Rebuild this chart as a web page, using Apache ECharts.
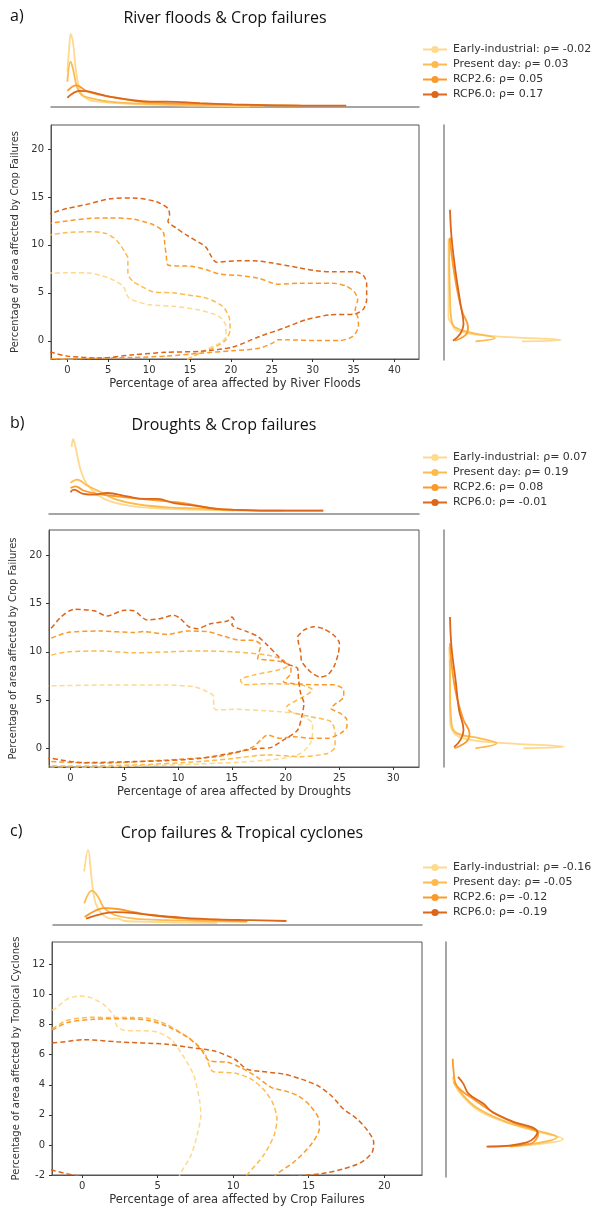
<!DOCTYPE html>
<html><head><meta charset="utf-8">
<script src="https://cdn.jsdelivr.net/npm/echarts@6/dist/echarts.min.js"></script>
<style>html,body{margin:0;padding:0;background:#fff}#c{width:598px;height:1207px}</style>
</head><body><div id="c"></div><script>
// ---------- data ----------
const scenarios = ['Early-industrial', 'Present day', 'RCP2.6', 'RCP6.0'];
const rhoA = ['-0.02', '0.03', '0.05', '0.17'];
const rhoB = ['0.07', '0.19', '0.08', '-0.01'];
const rhoC = ['-0.16', '-0.05', '-0.12', '-0.19'];
const xTicksA = [0, 5, 10, 15, 20, 25, 30, 35, 40];
const yTicksA = [0, 5, 10, 15, 20];
const xTicksB = [0, 5, 10, 15, 20, 25, 30];
const yTicksB = [0, 5, 10, 15, 20];
const xTicksC = [0, 5, 10, 15, 20];
const yTicksC = [-2, 0, 2, 4, 6, 8, 10, 12];

// panel a: contours (x: river floods %, y: crop failures %)
const aContEarly = [[-2.5,7.06],[-2,7.06],[0,7.1],[2.7,7.06],[5.2,6.5],[6.8,5.7],[7.4,4.6],[7.8,4.3],[10,3.76],[12.9,3.6],[16.2,3.2],[18.6,2.5],[19.4,1.5],[19.4,0.45],[18.6,-0.24],[17,-0.9],[15.4,-1.6],[14.5,-2],[13,-2.6],[5,-2.9],[-2.5,-2.6],[-2.5,7.06]];
const aContPresent = [[-2.5,11.0],[-2,11.06],[0,11.3],[3.1,11.37],[4.8,11.17],[6,10.5],[7,9.3],[7.4,8.6],[7.4,7.06],[8.0,6.2],[8.8,5.8],[10.5,5.1],[12.9,5.0],[15.4,4.7],[17,4.45],[19,3.6],[19.8,2.4],[19.9,1.15],[19.4,0.1],[18.2,-0.6],[16.2,-1.3],[15,-1.8],[13.5,-2.3],[6,-2.4],[0,-1.95],[-2,-1.85],[-2.5,-1.8],[-2.5,11.0]];
const aContRcp26 = [[-2.5,12.2],[-2,12.28],[0,12.5],[2.5,12.75],[5.2,12.8],[8,12.7],[10.5,12.1],[11.7,11.4],[11.9,10.2],[12.1,8.8],[12.3,7.9],[13.7,7.8],[15.4,7.75],[17,7.4],[18.6,6.96],[21.1,6.8],[23.5,6.5],[25.1,6.0],[25.9,5.9],[28.4,6.0],[32.5,6.0],[34.1,5.7],[35.1,5.1],[35.5,4.3],[35.2,3.2],[35.5,2.5],[35.6,1.5],[34.9,0.45],[33.3,0.03],[30.4,0.03],[26.8,0.1],[25.7,0.1],[25.1,-0.24],[23.5,-0.77],[20.2,-1.04],[16.2,-1.3],[12.1,-1.6],[8,-1.74],[4,-1.8],[0,-1.9],[-2,-1.9],[-2.5,-1.9],[-2.5,12.2]];
const aContRcp60 = [[-2.5,13.1],[-2,13.3],[0,13.8],[2.3,14.2],[5.2,14.8],[8,14.9],[10.9,14.5],[12.3,13.8],[12.5,13.1],[12.3,12.45],[13.3,11.76],[14.5,11.06],[16.2,10.2],[17,9.7],[17.6,8.8],[18.2,8.2],[21.1,8.35],[22.7,8.35],[25.1,8.1],[28.4,7.6],[30.4,7.3],[32.5,7.2],[35.2,7.2],[36.2,6.8],[36.6,6.0],[36.6,4.3],[36.2,3.3],[35.2,2.8],[32.1,2.7],[29.2,2.2],[26.4,1.3],[23.5,0.45],[20.2,-0.66],[16.2,-1.1],[12.1,-1.2],[8,-1.46],[4,-1.8],[0,-1.6],[-2,-1.2],[-2.5,-1.1],[-2.5,13.1]];
// panel a: marginal densities
const aTopEarly = [[0,0.46],[0.2,0.74],[0.4,0.95],[0.7,0.83],[1.1,0.44],[1.7,0.18],[2.7,0.09],[3.9,0.07],[6.0,0.05],[10.1,0.03],[16.2,0.017],[22.3,0.01]];
const aTopPresent = [[0,0.33],[0.4,0.59],[0.7,0.49],[1.1,0.29],[1.7,0.16],[2.7,0.12],[5.2,0.07],[10.1,0.04],[16.2,0.026],[24,0.015]];
const aTopRcp26 = [[0,0.21],[1.1,0.28],[2.3,0.21],[3.9,0.16],[6.0,0.12],[8.8,0.07],[12.1,0.05],[16.2,0.04],[20.2,0.03],[28.4,0.017]];
const aTopRcp60 = [[0,0.12],[1.5,0.21],[2.7,0.2],[4.8,0.14],[7.2,0.1],[10.1,0.07],[12.1,0.07],[16.2,0.05],[20.2,0.035],[26.4,0.02],[34.1,0.017]];
const aRightEarly = [[0.52,0.03],[0.78,0.17],[0.31,0.6],[0.085,1.15],[0.05,1.9],[0.03,2.5],[0.03,6.7],[0.03,10.7]];
const aRightPresent = [[0.21,0.03],[0.34,0.38],[0.17,0.97],[0.073,1.5],[0.05,2.2],[0.04,4.6],[0.035,8.45],[0.035,10.7]];
const aRightRcp26 = [[0.073,0.1],[0.15,0.8],[0.16,1.5],[0.12,3.2],[0.08,6.0],[0.05,9.15],[0.04,10.8]];
const aRightRcp60 = [[0.06,0.1],[0.107,0.8],[0.13,1.84],[0.11,3.9],[0.076,7.4],[0.05,10.9],[0.04,13.7]];

// panel b: contours (x: droughts %, y: crop failures %)
const bContEarly = [[-2.5,6.5],[-1.86,6.5],[2.8,6.57],[9,6.57],[11.5,6.4],[12.7,5.9],[13.3,5.4],[13.3,4.3],[13.6,4.0],[15.2,4.06],[18.3,3.9],[20.8,3.65],[22,3.1],[22.5,2.6],[22.5,1.6],[22.3,0.55],[21.4,-0.5],[19.8,-1.0],[16.7,-1.34],[12.1,-1.58],[5.9,-1.79],[0,-2.0],[-2.5,-2.0],[-2.5,6.5]];
const bContPresent = [[-2.5,9.6],[-1.86,9.67],[-0.3,10.0],[2.8,10.1],[5.9,9.9],[9.0,10.0],[12.1,10.1],[15.2,10.0],[18.3,9.67],[19.8,9.16],[20.1,8.5],[19.2,8.1],[17.0,7.6],[15.8,7.1],[16.1,6.6],[18.3,6.7],[21.4,6.6],[22.5,6.06],[21.4,5.2],[20.1,4.3],[20.5,3.8],[22.3,3.3],[24.2,2.8],[24.6,1.6],[24.6,0.2],[23.9,-0.5],[21.4,-0.83],[18.3,-0.65],[15.2,-1.0],[12.1,-1.34],[5.9,-1.69],[0,-1.8],[-2.5,-1.7],[-2.5,9.6]];
const bContRcp26 = [[-2.5,11.2],[-1.86,11.4],[-0.3,12.0],[2.8,12.15],[5.9,12.0],[6.8,12.1],[9.0,11.8],[10.8,12.15],[12.7,12.1],[14.3,11.6],[15.8,11.2],[17,11.2],[17.7,10.7],[17.5,9.85],[17.4,9.3],[18.3,9.16],[19.5,9.0],[20.5,8.5],[20.5,7.8],[19.8,6.9],[20.5,6.75],[22.9,6.6],[24.5,6.6],[25.4,6.06],[25.4,5.37],[24.5,4.5],[24.2,4.16],[25.1,3.65],[25.7,2.96],[25.7,2.27],[25.1,1.58],[23.9,1.07],[22.3,1.07],[20.8,1.24],[19.5,1.07],[18.3,1.4],[17.7,0.9],[17.0,0.2],[15.8,-0.3],[13.6,-0.83],[9,-1.17],[2.8,-1.5],[-1.86,-1.34],[-2.5,-1.3],[-2.5,11.2]];
const bContRcp60 = [[-2.5,12.2],[-1.86,12.4],[-0.9,13.6],[0.3,14.4],[2.2,14.25],[3.4,13.7],[5.0,14.3],[5.9,14.25],[7.1,13.3],[8.4,13.46],[9.6,13.8],[10.2,13.46],[11.0,12.6],[11.8,12.4],[13,12.9],[14.6,13.2],[15,13.6],[15.2,13.3],[15,12.8],[16.4,12.1],[17.4,11.6],[18.3,10.7],[19.2,9.67],[20,8.8],[21.1,8.3],[21.2,7.1],[21.4,5.7],[21.7,4.7],[21.5,3.3],[21.1,1.9],[19.8,0.9],[18.6,0.1],[17.7,0.03],[16.4,-0.14],[15.2,-0.41],[12.1,-1.0],[9,-1.24],[5.9,-1.34],[1.2,-1.45],[-1.86,-1.0],[-2.5,-0.9],[-2.5,12.2]];
const bContRcp60Island = [[21.1,11.57],[21.7,12.25],[22.6,12.6],[23.5,12.4],[24.5,11.7],[25,10.9],[24.9,9.85],[24.5,8.5],[23.9,7.6],[23.2,7.4],[22.3,7.95],[21.5,9.0],[21.4,10.0],[21.2,10.9],[21.1,11.57]];
// panel b: marginal densities
const bTopEarly = [[0.1,0.8],[0.25,0.89],[0.46,0.8],[0.93,0.53],[1.55,0.35],[2.5,0.23],[3.7,0.15],[5.9,0.09],[9,0.06],[12.1,0.05],[15.2,0.04]];
const bTopPresent = [[0,0.37],[0.6,0.41],[1.55,0.34],[2.8,0.26],[4.3,0.17],[6.5,0.11],[9,0.08],[12.1,0.065],[16.7,0.04],[19.8,0.04]];
const bTopRcp26 = [[0,0.31],[0.46,0.33],[1.2,0.28],[2.5,0.24],[4.3,0.21],[6.5,0.18],[9,0.15],[10.5,0.13],[12.7,0.08],[15.2,0.05],[19.8,0.04],[23.5,0.04]];
const bTopRcp60 = [[0,0.26],[0.3,0.29],[1.2,0.24],[2.2,0.23],[3.4,0.25],[5.3,0.21],[6.8,0.18],[8.1,0.18],[9.6,0.13],[11.5,0.1],[13.3,0.065],[15.2,0.05],[18.3,0.04],[23.5,0.04]];
const bRightEarly = [[0.53,0.04],[0.8,0.2],[0.35,0.62],[0.13,1.07],[0.06,1.76],[0.04,2.96],[0.04,6.4],[0.035,10.5]];
const bRightPresent = [[0.21,0.04],[0.35,0.55],[0.24,1.07],[0.085,1.6],[0.05,2.6],[0.04,6.4],[0.04,9.2]];
const bRightRcp26 = [[0.07,0.04],[0.15,0.73],[0.17,1.6],[0.13,2.96],[0.08,5.7],[0.05,8.8],[0.04,10.9]];
const bRightRcp60 = [[0.067,0.15],[0.11,0.9],[0.13,1.93],[0.1,4.0],[0.077,7.1],[0.05,10.5],[0.04,13.6]];

// panel c: contours (x: crop failures %, y: tropical cyclones %)
const cContEarly = [[-2.5,8.8],[-1.88,9.0],[-1.0,9.7],[-0.2,9.9],[0.55,9.8],[1.4,9.36],[2.1,8.6],[2.3,7.9],[2.9,7.6],[3.9,7.6],[5,7.5],[5.9,7.0],[6.7,5.9],[7.4,4.6],[7.8,2.8],[7.85,1.95],[7.6,0.62],[7.2,-0.7],[6.5,-1.9],[6.2,-2.5],[0,-3],[-2.5,-2.6],[-2.5,8.8]];
const cContPresent = [[-2.5,7.6],[-1.88,7.8],[-1.0,8.3],[0.77,8.5],[1.9,8.47],[3.4,8.47],[4.5,8.4],[5.6,8.0],[6.7,7.37],[7.6,6.7],[8.1,6.15],[8.5,5.04],[8.7,4.87],[10.1,4.78],[11.2,4.38],[12,3.7],[12.6,2.83],[12.9,1.73],[12.7,0.62],[12,-0.7],[10.9,-2.0],[10.3,-2.6],[0,-3],[-2.5,-2.6],[-2.5,7.6]];
const cContRcp26 = [[-2.5,7.5],[-1.88,7.7],[-1,8.14],[0.77,8.36],[3.0,8.4],[4.3,8.3],[5.6,7.9],[7.0,7.15],[7.85,6.37],[8.4,5.6],[9.6,5.5],[10.5,5.15],[11.6,4.5],[12.5,3.83],[13.4,3.6],[14.3,3.27],[15.1,2.6],[15.7,1.6],[15.7,1.06],[15.1,-0.04],[14,-1.15],[12.9,-1.92],[12.3,-2.5],[0,-3],[-2.5,-2.6],[-2.5,7.5]];
const cContRcp60 = [[-2.5,6.8],[-1.88,6.8],[0.1,7.0],[2.3,6.86],[5.6,6.7],[7.0,6.5],[8.7,6.26],[10.1,5.7],[10.9,5.04],[11.8,4.9],[13.4,4.7],[14.5,4.38],[15.6,3.94],[16.5,3.27],[17.3,2.39],[18.2,1.73],[18.9,0.95],[19.3,0.18],[19.2,-0.49],[18.5,-1.15],[17.3,-1.6],[15.8,-1.92],[14.5,-2.04],[8,-2.6],[0,-2.1],[-1.9,-1.7],[-2.5,-1.5],[-2.5,6.8]];
// panel c: marginal densities
const cTopEarly = [[0.07,0.67],[0.33,0.94],[0.55,0.6],[0.77,0.31],[1.2,0.15],[1.87,0.08],[2.3,0.08],[2.76,0.05],[4.5,0.04],[6.7,0.03],[8.9,0.025]];
const cTopPresent = [[0.07,0.27],[0.6,0.43],[1.0,0.35],[1.4,0.21],[2.1,0.125],[3.4,0.08],[5.6,0.06],[7.8,0.05],[10.9,0.04]];
const cTopRcp26 = [[0.1,0.1],[0.77,0.175],[1.4,0.21],[2.3,0.2],[3.4,0.16],[4.5,0.125],[6.7,0.08],[8.9,0.06],[10.9,0.05]];
const cTopRcp60 = [[0.2,0.08],[1.2,0.137],[2.1,0.16],[3.4,0.15],[4.5,0.125],[6.7,0.09],[8.9,0.07],[11.1,0.06],[13.5,0.05]];
const cRightEarly = [[0.43,0],[0.78,0.5],[0.63,0.95],[0.43,1.5],[0.23,2.3],[0.115,3.27],[0.06,4.05],[0.045,4.6]];
const cRightPresent = [[0.43,0],[0.74,0.62],[0.56,1.17],[0.38,1.72],[0.2,2.6],[0.105,3.5],[0.05,4.26]];
const cRightRcp26 = [[0.28,0],[0.56,0.18],[0.615,0.84],[0.45,1.6],[0.315,2.27],[0.18,3.16],[0.07,4.05],[0.05,5.04],[0.045,5.8]];
const cRightRcp60 = [[0.27,0],[0.54,0.29],[0.61,0.95],[0.43,1.72],[0.31,2.27],[0.25,2.83],[0.15,3.5],[0.115,4.16],[0.08,4.6]];

// ---------- styles / layout ----------
const colors = ['#fed98e', '#fdbb4f', '#fb9a29', '#dc6619'];
const FONT = '"DejaVu Sans", sans-serif';
const panels = [
  { label: 'a)', title: 'River floods & Crop failures', titleX: 225, rho: rhoA,
    xName: 'Percentage of area affected by River Floods', yName: 'Percentage of area affected by Crop Failures',
    xMin: -2, xMax: 43, xTicks: xTicksA, yMin: -1.9, yMax: 22.5, yTicks: yTicksA,
    main: { left: 51, top: 125, width: 368, height: 234 },
    topG: { left: 51, top: 30, width: 368, height: 77 },
    rightG: { left: 444, top: 125, width: 150, height: 235 },
    titleY: 18, legendTop: 39,
    cont: [[aContEarly], [aContPresent], [aContRcp26], [aContRcp60]],
    tops: [aTopEarly, aTopPresent, aTopRcp26, aTopRcp60],
    rights: [aRightEarly, aRightPresent, aRightRcp26, aRightRcp60] },
  { label: 'b)', title: 'Droughts & Crop failures', titleX: 224, rho: rhoB,
    xName: 'Percentage of area affected by Droughts', yName: 'Percentage of area affected by Crop Failures',
    xMin: -2, xMax: 32.4, xTicks: xTicksB, yMin: -1.9, yMax: 22.6, yTicks: yTicksB,
    main: { left: 49, top: 530, width: 370, height: 237 },
    topG: { left: 49, top: 430, width: 370, height: 84 },
    rightG: { left: 444, top: 530, width: 150, height: 237 },
    titleY: 425, legendTop: 447,
    cont: [[bContEarly], [bContPresent], [bContRcp26], [bContRcp60, bContRcp60Island]],
    tops: [bTopEarly, bTopPresent, bTopRcp26, bTopRcp60],
    rights: [bRightEarly, bRightPresent, bRightRcp26, bRightRcp60] },
  { label: 'c)', title: 'Crop failures & Tropical cyclones', titleX: 242, rho: rhoC,
    xName: 'Percentage of area affected by Crop Failures', yName: 'Percentage of area affected by Tropical Cyclones',
    xMin: -2, xMax: 22.5, xTicks: xTicksC, yMin: -2, yMax: 13.5, yTicks: yTicksC,
    main: { left: 52, top: 942, width: 370, height: 235 },
    topG: { left: 53, top: 845, width: 369, height: 80 },
    rightG: { left: 446, top: 942, width: 150, height: 235 },
    titleY: 833, legendTop: 857,
    cont: [[cContEarly], [cContPresent], [cContRcp26], [cContRcp60]],
    tops: [cTopEarly, cTopPresent, cTopRcp26, cTopRcp60],
    rights: [cRightEarly, cRightPresent, cRightRcp26, cRightRcp60] }
];

const grid = [], xAxis = [], yAxis = [], series = [], legend = [], graphic = [];
const tickLbl = { fontFamily: FONT, fontSize: 10, color: '#333' };
const xNameLbl = { fontFamily: FONT, fontSize: 11.5, color: '#333' };
const yNameLbl = { fontFamily: FONT, fontSize: 10, color: '#333' };
panels.forEach((p, pi) => {
  const gi = pi * 3;
  grid.push(Object.assign({ show: true, borderColor: '#555', borderWidth: 1, backgroundColor: 'transparent' }, p.main));
  grid.push(Object.assign({}, p.topG));
  grid.push(Object.assign({}, p.rightG));
  // main axes
  xAxis.push({ gridIndex: gi, type: 'value', min: p.xMin, max: p.xMax,
    name: p.xName, nameLocation: 'middle', nameGap: 19, nameTextStyle: xNameLbl,
    axisLine: { show: true, onZero: false, lineStyle: { color: '#555' } },
    axisTick: { show: true, length: 3, customValues: p.xTicks, lineStyle: { color: '#333' } },
    axisLabel: Object.assign({ customValues: p.xTicks, margin: 6 }, tickLbl), splitLine: { show: false } });
  yAxis.push({ gridIndex: gi, type: 'value', min: p.yMin, max: p.yMax,
    name: p.yName, nameLocation: 'middle', nameGap: 26, nameTextStyle: yNameLbl,
    axisLine: { show: true, onZero: false, lineStyle: { color: '#555' } },
    axisTick: { show: true, length: 3, customValues: p.yTicks, lineStyle: { color: '#333' } },
    axisLabel: Object.assign({ customValues: p.yTicks, margin: 7 }, tickLbl), splitLine: { show: false } });
  // top marginal axes
  xAxis.push({ gridIndex: gi + 1, type: 'value', min: p.xMin, max: p.xMax,
    axisLine: { show: true, onZero: false, lineStyle: { color: '#888', width: 1.5 } },
    axisTick: { show: false }, axisLabel: { show: false }, splitLine: { show: false } });
  yAxis.push({ gridIndex: gi + 1, type: 'value', min: 0, max: 1, show: false });
  // right marginal axes
  xAxis.push({ gridIndex: gi + 2, type: 'value', min: 0, max: 1, show: false });
  yAxis.push({ gridIndex: gi + 2, type: 'value', min: p.yMin, max: p.yMax,
    axisLine: { show: true, onZero: false, lineStyle: { color: '#888', width: 1.5 } },
    axisTick: { show: false }, axisLabel: { show: false }, splitLine: { show: false } });

  const names = scenarios.map((s, si) => s + ': \u03c1= ' + p.rho[si]);
  scenarios.forEach((s, si) => {
    const common = { name: names[si], type: 'line', symbol: 'circle', symbolSize: 7, showSymbol: false,
      color: colors[si], itemStyle: { color: colors[si] }, silent: true, animation: false };
    series.push(Object.assign({}, common, { xAxisIndex: gi + 1, yAxisIndex: gi + 1, data: p.tops[si], smooth: 0.4,
      lineStyle: { color: colors[si], width: 1.8 } }));
    series.push(Object.assign({}, common, { xAxisIndex: gi + 2, yAxisIndex: gi + 2, data: p.rights[si], smooth: 0.4,
      lineStyle: { color: colors[si], width: 1.8 } }));
    p.cont[si].forEach(loop => {
      series.push(Object.assign({}, common, { xAxisIndex: gi, yAxisIndex: gi, data: loop, smooth: 0.25, clip: true,
        lineStyle: { color: colors[si], width: 1.5, type: [5, 3] } }));
    });
  });
  legend.push({ orient: 'vertical', left: 417, top: p.legendTop, itemWidth: 24, itemHeight: 9, itemGap: 4,
    selectedMode: false, data: names,
    textStyle: { fontFamily: FONT, fontSize: 11, color: '#333', padding: [0, 0, 0, 1] } });
  graphic.push({ type: 'text', left: 10, top: p.titleY - 10, style: { text: p.label, font: '16px "Open Sans"', fill: '#111' } });
  graphic.push({ type: 'text', x: p.titleX, y: p.titleY, style: { text: p.title, font: '16px "Open Sans"', fill: '#111', textAlign: 'center', textVerticalAlign: 'middle' } });
});

const chart = echarts.init(document.getElementById('c'), null, { renderer: 'canvas' });
chart.setOption({ animation: false, backgroundColor: '#fff', grid, xAxis, yAxis, series, legend, graphic });
</script></body></html>
